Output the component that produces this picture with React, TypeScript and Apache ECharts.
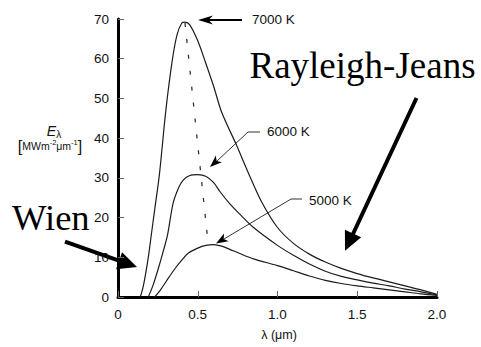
import React, { useEffect, useRef } from 'react';
import * as echarts from 'echarts';

// Wavelength (µm) and spectral emittance (MW m^-2 µm^-1)
const wl7000 = [0.14, 0.16, 0.19, 0.21, 0.23, 0.26, 0.30, 0.34, 0.37, 0.40, 0.42, 0.45, 0.50, 0.545, 0.60, 0.65, 0.74, 0.82, 0.90, 1.0, 1.1, 1.2, 1.3, 1.4, 1.5, 1.6, 1.7, 1.8, 1.9, 2.0];
const e7000 = [0, 3, 10, 16, 22, 31, 47, 59.5, 66, 69, 69.2, 68.5, 64.5, 59.5, 53, 46.5, 38.5, 31, 24, 17.5, 13.5, 10.8, 8.8, 7.2, 5.9, 4.8, 3.8, 2.8, 1.8, 0.7];

const wl6000 = [0.19, 0.22, 0.25, 0.28, 0.31, 0.345, 0.38, 0.41, 0.45, 0.50, 0.55, 0.60, 0.64, 0.70, 0.76, 0.85, 1.0, 1.1, 1.2, 1.3, 1.4, 1.5, 1.6, 1.7, 1.8, 1.9, 2.0];
const e6000 = [0, 3, 6.8, 11, 15.5, 23.5, 27.5, 29.5, 30.6, 30.8, 30.4, 28.8, 26.5, 23.5, 21, 17.5, 13, 10.5, 8.3, 6.5, 5.2, 4.3, 3.5, 2.8, 2.0, 1.3, 0.5];

const wl5000 = [0.23, 0.27, 0.32, 0.36, 0.40, 0.44, 0.50, 0.55, 0.60, 0.65, 0.70, 0.76, 0.85, 1.0, 1.1, 1.2, 1.3, 1.4, 1.5, 1.6, 1.7, 1.8, 1.9, 2.0];
const e5000 = [0, 2, 5, 7.3, 9.3, 11, 12.3, 13, 13.2, 12.8, 12, 11, 9.6, 7.9, 6.6, 5.3, 4.2, 3.4, 2.8, 2.3, 1.8, 1.3, 0.8, 0.4];

// Wien displacement locus (dashed)
const wlPeak = [0.42, 0.565];
const ePeak = [69, 13.5];

const xTicks = [0, 0.5, 1.0, 1.5, 2.0];
const yTicks = [0, 10, 20, 30, 40, 50, 60, 70];

const tempLabels = ['7000 K', '6000 K', '5000 K'];

const zip = (a: number[], b: number[]) => a.map((v, i) => [v, b[i]]);

function head(tx: number, ty: number, fx: number, fy: number, len: number, half: number, notch = 1) {
  const dx = tx - fx, dy = ty - fy;
  const L = Math.hypot(dx, dy);
  const ux = dx / L, uy = dy / L;
  const bx = tx - ux * len, by = ty - uy * len;
  const px = -uy, py = ux;
  const nx = tx - ux * len * notch, ny = ty - uy * len * notch;
  return [[tx, ty], [bx + px * half, by + py * half], [nx, ny], [bx - px * half, by - py * half]];
}

export default function App() {
  const ref = useRef<HTMLDivElement>(null);
  useEffect(() => {
    const chart = echarts.init(ref.current!, undefined, { renderer: 'svg' });
    const curveStyle = { color: '#1c1c1c', width: 1.2 };
    const sans = 'Liberation Sans, Arial, sans-serif';
    const serif = 'Liberation Serif, Times New Roman, serif';
    const ink = '#111';

    const rjTip = [345, 250.7];
    const rjFrom = [416.5, 98];
    const wTip = [137, 267];
    const wFrom = [65, 241.7];

    chart.setOption({
      animation: false,
      grid: { left: 118, right: 44, top: 19, bottom: 50 },
      xAxis: {
        type: 'value', min: 0, max: 2, interval: 0.5,
        axisLine: { show: true, lineStyle: { color: '#000', width: 3 } },
        axisTick: { show: true, inside: true, length: 6, lineStyle: { color: '#666', width: 1 } },
        axisLabel: {
          color: ink, fontSize: 13.5, fontFamily: sans, margin: 10,
          formatter: (v: number) => (xTicks.includes(v) ? (v === 0 ? '0' : v.toFixed(1)) : ''),
        },
        splitLine: { show: false },
      },
      yAxis: {
        type: 'value', min: 0, max: 70, interval: 10,
        axisLine: { show: true, lineStyle: { color: '#000', width: 3 } },
        axisTick: { show: true, inside: true, length: 6, lineStyle: { color: '#666', width: 1 } },
        axisLabel: {
          color: ink, fontSize: 13.5, fontFamily: sans, margin: 9,
          formatter: (v: number) => (yTicks.includes(v) ? String(v) : ''),
        },
        splitLine: { show: false },
      },
      series: [
        { name: tempLabels[0], type: 'line', data: zip(wl7000, e7000), smooth: 0.3, showSymbol: false, lineStyle: curveStyle },
        { name: tempLabels[1], type: 'line', data: zip(wl6000, e6000), smooth: 0.3, showSymbol: false, lineStyle: curveStyle },
        { name: tempLabels[2], type: 'line', data: zip(wl5000, e5000), smooth: 0.3, showSymbol: false, lineStyle: curveStyle },
        { name: 'peak', type: 'line', data: zip(wlPeak, ePeak), showSymbol: false, lineStyle: { color: '#333', width: 1.3, type: [4, 12] } },
      ],
      graphic: [
        // 7000 K
        { type: 'text', x: 252, y: 19, style: { text: tempLabels[0], font: `13.5px ${sans}`, fill: ink, verticalAlign: 'middle' } },
        { type: 'line', shape: { x1: 242, y1: 20, x2: 206, y2: 20 }, style: { stroke: '#000', lineWidth: 2.2 } },
        { type: 'polygon', shape: { points: head(198, 20, 242, 20, 15, 4.5, 0.7) }, style: { fill: '#000' } },
        // 6000 K
        { type: 'text', x: 267, y: 131, style: { text: tempLabels[1], font: `13.5px ${sans}`, fill: ink, verticalAlign: 'middle' } },
        { type: 'polyline', shape: { points: [[260, 132], [248, 132], [217, 161]] }, style: { stroke: '#333', lineWidth: 1, fill: 'none' } },
        { type: 'polygon', shape: { points: head(210, 167, 248, 132, 12, 4.5, 0.75) }, style: { fill: '#000' } },
        // 5000 K
        { type: 'text', x: 309, y: 200, style: { text: tempLabels[2], font: `13.5px ${sans}`, fill: ink, verticalAlign: 'middle' } },
        { type: 'polyline', shape: { points: [[302, 199], [291, 199], [224, 239]] }, style: { stroke: '#333', lineWidth: 1, fill: 'none' } },
        { type: 'polygon', shape: { points: head(216, 243.5, 291, 199, 12, 4.5, 0.75) }, style: { fill: '#000' } },
        // Rayleigh-Jeans
        { type: 'text', x: 362.5, y: 65, style: { text: 'Rayleigh-Jeans', font: `37px ${serif}`, fill: '#000', align: 'center', verticalAlign: 'middle' } },
        { type: 'line', shape: { x1: rjFrom[0], y1: rjFrom[1], x2: 352.5, y2: 235 }, style: { stroke: '#000', lineWidth: 4 } },
        { type: 'polygon', shape: { points: head(rjTip[0], rjTip[1], rjFrom[0], rjFrom[1], 19, 9) }, style: { fill: '#000' } },
        // Wien
        { type: 'text', x: 12, y: 217, style: { text: 'Wien', font: `36.5px ${serif}`, fill: '#000', verticalAlign: 'middle' } },
        { type: 'line', shape: { x1: wFrom[0], y1: wFrom[1], x2: 121, y2: 261.4 }, style: { stroke: '#000', lineWidth: 4 } },
        { type: 'polygon', shape: { points: head(wTip[0], wTip[1], wFrom[0], wFrom[1], 19, 9) }, style: { fill: '#000' } },
        // Y axis name
        {
          type: 'text', x: 54, y: 131,
          style: {
            text: '{e|E}{s|λ}', align: 'center', verticalAlign: 'middle',
            rich: {
              e: { font: `italic 14px ${sans}`, fill: ink },
              s: { font: `10px ${sans}`, fill: ink, verticalAlign: 'bottom', padding: [6, 0, 0, 0] },
            },
          },
        },
        {
          type: 'text', x: 50, y: 146,
          style: {
            text: '{b|[}{t|MWm}{u|-2}{t|μm}{u|-1}{b|]}', align: 'center', verticalAlign: 'middle',
            rich: {
              b: { font: `16px ${sans}`, fill: ink },
              t: { font: `10.5px ${sans}`, fill: ink },
              u: { font: `7.5px ${sans}`, fill: ink, verticalAlign: 'top' },
            },
          },
        },
        // X axis name
        { type: 'text', x: 279, y: 335, style: { text: 'λ (μm)', font: `12.5px ${sans}`, fill: ink, align: 'center', verticalAlign: 'middle' } },
      ],
    });
    return () => chart.dispose();
  }, []);
  return <div ref={ref} style={{ width: 481, height: 347, position: 'absolute', left: 0, top: 0 }} />;
}
